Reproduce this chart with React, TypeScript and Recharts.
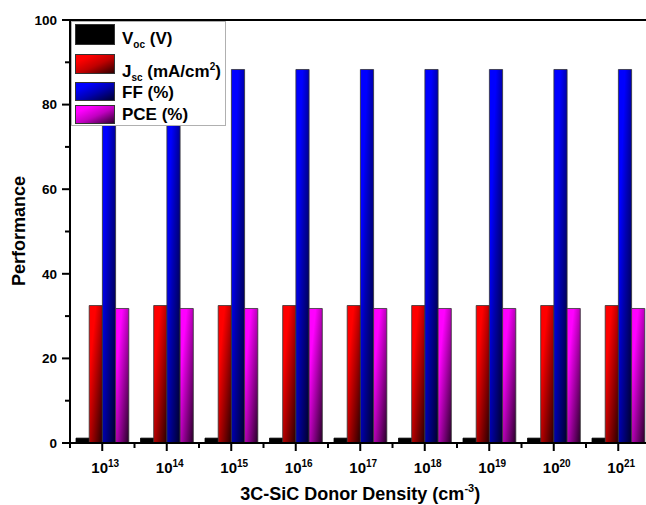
import React from 'react';
import { BarChart, Bar, XAxis, YAxis, Legend, ReferenceLine } from 'recharts';

const exponents = ['13', '14', '15', '16', '17', '18', '19', '20', '21'];
const vocValues = [1.15, 1.15, 1.15, 1.15, 1.15, 1.15, 1.15, 1.15, 1.15];
const jscValues = [32.5, 32.5, 32.5, 32.5, 32.5, 32.5, 32.5, 32.5, 32.5];
const ffValues = [88.3, 88.3, 88.3, 88.3, 88.3, 88.3, 88.3, 88.3, 88.3];
const pceValues = [31.8, 31.8, 31.8, 31.8, 31.8, 31.8, 31.8, 31.8, 31.8];
const yTicks = [0, 10, 20, 30, 40, 50, 60, 70, 80, 90, 100];

const data = exponents.map((e, i) => ({
  exp: e,
  voc: vocValues[i],
  jsc: jscValues[i],
  ff: ffValues[i],
  pce: pceValues[i],
}));

const FONT = '"Liberation Sans", Arial, Helvetica, sans-serif';
const HALF_BAND = 32.25;

const XTick = (props: any) => {
  const { x, y, payload, index } = props;
  const last = index === exponents.length - 1;
  return (
    <g>
      <line x1={x} x2={x} y1={y} y2={y + 8} stroke="#000" strokeWidth={2} />
      <line x1={x - HALF_BAND} x2={x - HALF_BAND} y1={y} y2={y + 5} stroke="#000" strokeWidth={2} />
      {last && <line x1={x + HALF_BAND} x2={x + HALF_BAND} y1={y} y2={y + 5} stroke="#000" strokeWidth={2} />}
      <text x={x + 3} y={y + 30} textAnchor="middle" fontFamily={FONT} fontWeight="bold" fontSize={15} fill="#000">
        <tspan>10</tspan>
        <tspan dy={-6} fontSize={10}>{payload.value}</tspan>
      </text>
    </g>
  );
};

const YTick = (props: any) => {
  const { x, y, payload } = props;
  const major = payload.value % 20 === 0;
  return (
    <g>
      <line x1={x - (major ? 8 : 5)} x2={x} y1={y} y2={y} stroke="#000" strokeWidth={2} />
      {major && (
        <text x={x - 13} y={y} dy={4.7} textAnchor="end" fontFamily={FONT} fontWeight="bold" fontSize={13.5} fill="#000">
          {payload.value}
        </text>
      )}
    </g>
  );
};

const swatch = (c: string, mid: string, dark: string) =>
  `linear-gradient(to bottom right, ${c} 0%, ${c} 20%, ${mid} 55%, ${dark} 100%)`;

const legendRows = [
  { top: 2, h: 21, textTop: 8, bg: '#000', label: <>V<span style={{ fontSize: 10, verticalAlign: -4 }}>oc</span> (V)</> },
  { top: 32, h: 20, textTop: 36, bg: swatch('#ff0000', '#c00000', '#300000'), label: <>J<span style={{ fontSize: 10, verticalAlign: -4 }}>sc</span> (mA/cm<span style={{ fontSize: 10, verticalAlign: 7 }}>2</span>)</> },
  { top: 60, h: 19, textTop: 62, bg: swatch('#0000ff', '#0000b0', '#000030'), label: <>FF (%)</> },
  { top: 83, h: 19, textTop: 84, bg: swatch('#ff00ff', '#c000c0', '#300030'), label: <>PCE (%)</> },
];

const LegendBox = () => (
  <div
    style={{
      position: 'relative',
      width: 155,
      height: 105,
      border: '1px solid #b0b0b0',
      background: '#fff',
      boxSizing: 'border-box',
      fontFamily: FONT,
      fontWeight: 'bold',
      fontSize: 17,
      color: '#000',
    }}
  >
    {legendRows.map((r, i) => (
      <React.Fragment key={i}>
        <div
          style={{
            position: 'absolute',
            left: 3,
            top: r.top,
            width: 40,
            height: r.h,
            background: r.bg,
            border: '1px solid #333',
            boxSizing: 'border-box',
          }}
        />
        <div style={{ position: 'absolute', left: 50, top: r.textTop, lineHeight: '17px', whiteSpace: 'nowrap' }}>
          {r.label}
        </div>
      </React.Fragment>
    ))}
  </div>
);

const grad = (id: string, c: string, mid: string, dark: string) => (
  <linearGradient id={id} x1="0" y1="0" x2="1" y2="1">
    <stop offset="0%" stopColor={c} />
    <stop offset="25%" stopColor={c} />
    <stop offset="50%" stopColor={mid} />
    <stop offset="100%" stopColor={dark} />
  </linearGradient>
);

export default function App() {
  return (
    <div style={{ position: 'absolute', left: 0, top: 0, width: 646, height: 505, overflow: 'hidden', background: '#fff' }}>
      <BarChart
        width={660}
        height={505}
        data={data}
        margin={{ top: 20, right: 9.5, bottom: 0, left: 0 }}
        barGap={0}
        barSize={13.2}
      >
        <defs>
          {grad('gRed', '#ff0000', '#b80000', '#250000')}
          {grad('gBlue', '#0000ff', '#0000b0', '#000028')}
          {grad('gMag', '#ff00ff', '#b800b8', '#250025')}
        </defs>
        <XAxis
          dataKey="exp"
          height={62}
          tickSize={0}
          tickMargin={0}
          axisLine={{ stroke: '#000', strokeWidth: 2 }}
          tickLine={false}
          tick={<XTick />}
          interval={0}
          label={{
            content: (p: any) => {
              const vb = p.viewBox || {};
              const cx = (vb.x ?? 70) + (vb.width ?? 580) / 2;
              return (
                <text x={cx} y={500} textAnchor="middle" fontFamily={FONT} fontWeight="bold" fontSize={18} fill="#000">
                  <tspan>3C-SiC Donor Density (cm</tspan>
                  <tspan dy={-8} fontSize={11}>-3</tspan>
                  <tspan dy={8}>)</tspan>
                </text>
              );
            },
          }}
        />
        <YAxis
          width={70}
          domain={[0, 100]}
          ticks={yTicks}
          interval={0}
          tickSize={0}
          tickMargin={0}
          axisLine={{ stroke: '#000', strokeWidth: 2 }}
          tickLine={false}
          tick={<YTick />}
          label={{
            content: () => (
              <text
                x={25}
                y={231}
                transform="rotate(-90, 25, 231)"
                textAnchor="middle"
                fontFamily={FONT}
                fontWeight="bold"
                fontSize={18}
                fill="#000"
              >
                Performance
              </text>
            ),
          }}
        />
        <ReferenceLine y={100} stroke="#000" strokeWidth={2} />
        <Bar dataKey="voc" name="Voc (V)" fill="#000" stroke="#000" strokeWidth={0.8} isAnimationActive={false} />
        <Bar dataKey="jsc" name="Jsc (mA/cm2)" fill="url(#gRed)" stroke="#333" strokeWidth={0.8} isAnimationActive={false} />
        <Bar dataKey="ff" name="FF (%)" fill="url(#gBlue)" stroke="#333" strokeWidth={0.8} isAnimationActive={false} />
        <Bar dataKey="pce" name="PCE (%)" fill="url(#gMag)" stroke="#333" strokeWidth={0.8} isAnimationActive={false} />
        <Legend
          layout="vertical"
          align="center"
          verticalAlign="middle"
          content={() => <LegendBox />}
          wrapperStyle={{ left: 71, top: 21, width: 155, height: 105 }}
        />
      </BarChart>
    </div>
  );
}
